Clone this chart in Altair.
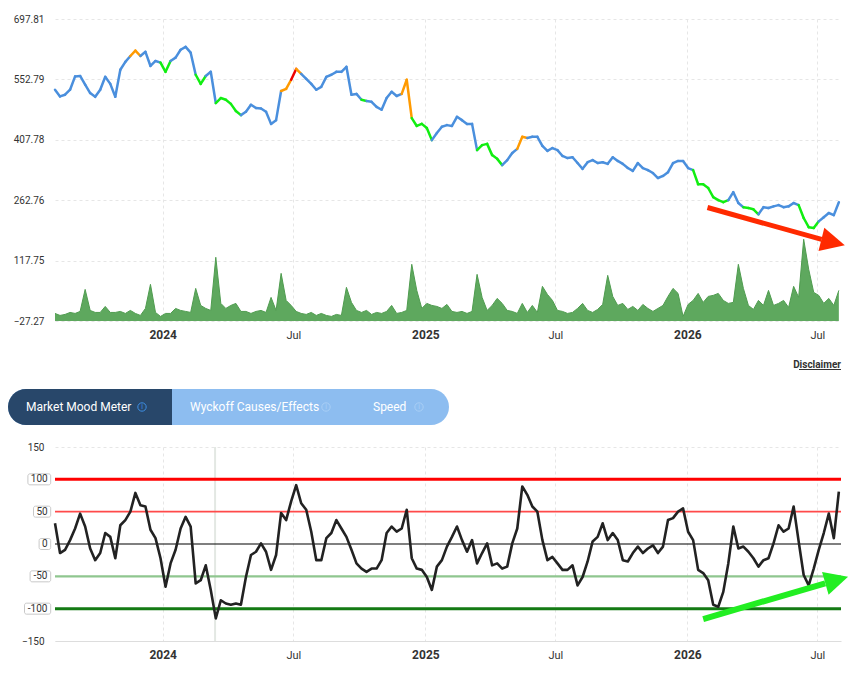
import altair as alt
import pandas as pd

# ---------------- data (weekly samples) ----------------
START = "2023-08-04"
N_WEEKS = 157

price = [528, 512, 516, 528, 560, 561, 540, 520, 511, 528,
         559, 542, 511, 576, 595, 609, 622, 609, 619, 585,
         597, 593, 571, 597, 605, 624, 631, 617, 564, 542,
         561, 571, 496, 508, 504, 494, 477, 467, 475, 492,
         484, 483, 475, 446, 455, 525, 530, 552, 578, 566,
         554, 542, 528, 535, 559, 564, 571, 571, 583, 516,
         518, 504, 501, 499, 487, 480, 508, 523, 513, 518,
         552, 460, 441, 446, 436, 407, 424, 439, 443, 441,
         463, 455, 446, 446, 383, 395, 398, 371, 362, 347,
         359, 376, 386, 415, 412, 415, 415, 393, 381, 388,
         383, 369, 364, 366, 352, 338, 354, 359, 352, 354,
         350, 366, 357, 350, 340, 333, 352, 340, 335, 328,
         316, 321, 330, 352, 357, 357, 340, 335, 301, 301,
         292, 270, 263, 258, 263, 282, 256, 246, 244, 241,
         229, 246, 244, 248, 251, 246, 248, 256, 251, 220,
         198, 196, 212, 222, 232, 227, 258]

# colour state of the segment that starts at each week: b=blue g=green o=orange r=red
state = list("bbbbbbbbbb" "bbbbboobbb" "bggbbbbbgg" "bbgggggbbb" "bbbbboorob"
             "bbbbbbbbbb" "bgbbbbbbbo" "oggggbbbbb" "bbbbgggggb" "bboobbbbbb"
             "bbbbbbbbbb" "bbbbbbbbbb" "bbbbbbbggg" "ggggbbbggg" "bbbbbbbbgg"
             "ggbbbbb")

volume = [-9.1, -13.9, -11.5, -6.7, -9.1, -4.3, 48.6, -1.9, -6.7, -6.7,
          7.7, -6.7, -6.7, -4.3, -9.1, -1.9, -9.1, -13.9, 2.9, 60.7,
          -6.7, -16.3, -9.1, -9.1, 2.9, -1.9, -4.3, -6.7, 51.0, 10.1,
          2.9, -1.9, 125.7, 15.0, 2.9, 10.1, 15.0, -4.3, -4.3, -9.1,
          -4.3, -1.9, -6.7, 29.4, -1.9, 87.1, 22.2, 10.1, -4.3, -9.1,
          -11.5, -6.7, -13.9, -9.1, -13.9, -16.3, -11.5, -13.9, 53.5, 17.4,
          -1.9, -6.7, -1.9, -11.5, -6.7, -9.1, -4.3, 10.1, -9.1, -6.7,
          -1.9, 108.8, 46.2, 2.9, 15.0, 10.1, 7.7, 2.9, 12.5, -4.3,
          -6.7, -4.3, -9.1, -4.3, 84.7, 29.4, -1.9, 10.1, 27.0, 15.0,
          -1.9, -4.3, -9.1, 15.0, -6.7, 10.1, -6.7, 55.9, 36.6, 22.2,
          -1.9, -4.3, -9.1, -6.7, 2.9, 15.0, -1.9, -6.7, 0.5, 12.5,
          82.3, 31.8, 10.1, 15.0, 0.5, 7.7, -1.9, 12.5, 2.9, -4.3,
          2.9, 10.1, 31.8, 51.0, 39.0, -16.3, 12.5, 22.2, 39.0, 17.4,
          31.8, 34.2, 39.0, 22.2, 15.0, 17.4, 108.8, 51.0, 10.1, 0.5,
          22.2, 10.1, 46.2, 10.1, 15.0, 22.2, 5.3, 55.9, 29.4, 169.0,
          96.8, 41.4, 34.2, 15.0, 27.0, 10.1, 46.2]

mood = [32, -14, -9, 6, 24, 47, 27, -7, -25, -14,
        17, 11, -22, 29, 37, 50, 79, 60, 58, 22,
        9, -22, -66, -30, -9, 24, 42, 27, -61, -56,
        -33, -71, -115, -87, -92, -94, -92, -94, -51, -17,
        -12, 1, -12, -40, -17, 48, 37, 66, 91, 63,
        53, 19, -25, -25, 9, 17, 37, 24, 11, -9,
        -30, -38, -43, -38, -38, -25, 17, 27, 19, 24,
        53, -22, -38, -40, -51, -71, -35, -25, -4, 11,
        27, 6, -12, 6, -30, -14, 1, -33, -30, -38,
        -35, 1, 24, 89, 76, 58, 50, 6, -25, -20,
        -30, -40, -40, -33, -64, -51, -27, 4, 11, 32,
        6, 17, 6, -25, -27, -14, -4, -14, -7, -2,
        -14, -4, 37, 40, 50, 55, 19, 6, -40, -45,
        -56, -94, -97, -74, -30, 27, -7, -4, -12, -22,
        -35, -25, -22, 1, 29, 19, 24, 58, 4, -48,
        -64, -38, -9, 17, 47, 9, 81]

x_tick_months = [(2024, 1), (2024, 7), (2025, 1), (2025, 7), (2026, 1), (2026, 7)]
price_ticks = [-27.27, 117.75, 262.76, 407.78, 552.79, 697.81]
mood_ticks = [-150, -100, -50, 0, 50, 100, 150]
mood_levels = [100, 50, 0, -50, -100]
crosshair_date = ["2024-03-14"]

# arrows (annotation, in data units)
red_arrow = {"date": ["2026-01-29"], "price": [245.3], "date2": ["2026-07-07"], "price2": [168.6],
             "hdate": ["2026-07-23"], "hprice": [161.6]}
green_arrow = {"date": ["2026-01-23"], "mood": [-116.0], "date2": ["2026-07-12"], "mood2": [-60.8],
               "hdate": ["2026-07-28"], "hmood": [-55.7]}

# ---------------- tables ----------------
dates = pd.date_range(START, periods=N_WEEKS, freq="7D")
df = pd.DataFrame({"date": dates, "price": price, "state": state,
                   "volume": volume, "mood": mood})
seg = df.copy()
seg["date2"] = seg["date"].shift(-1)
seg["price2"] = seg["price"].shift(-1)
seg = seg.dropna(subset=["date2"])

ra = pd.DataFrame(red_arrow)
for c in ["date", "date2", "hdate"]:
    ra[c] = pd.to_datetime(ra[c])
ga = pd.DataFrame(green_arrow)
for c in ["date", "date2", "hdate"]:
    ga[c] = pd.to_datetime(ga[c])
cross = pd.DataFrame({"date": pd.to_datetime(crosshair_date)})
one = pd.DataFrame({"k": [0]})

FONT = "Roboto"
W, H_TOP, H_BOT = 786, 302, 194

xscale = alt.Scale(domain=[alt.DateTime(year=2023, month=8, date=4),
                           alt.DateTime(year=2026, month=8, date=3)], nice=False)
is_year = "month(datum.value) == 0"


def xaxis(domain=False):
    return alt.Axis(
        values=[alt.DateTime(year=y, month=m, date=1) for y, m in x_tick_months],
        labelExpr=f"{is_year} ? timeFormat(datum.value, '%Y') : timeFormat(datum.value, '%b')",
        labelFontWeight={"condition": {"test": is_year, "value": "bold"}, "value": "normal"},
        labelFontSize={"condition": {"test": is_year, "value": 12}, "value": 11},
        ticks=False, domain=domain, domainColor="#dddddd", grid=True,
        labelPadding=8, title=None)


def X(field):
    return alt.X(field, scale=xscale, axis=xaxis(), title=None)


def Xb(field):
    return alt.X(field, scale=xscale, axis=xaxis(domain=True), title=None)


yscale_t = alt.Scale(domain=[-27.27, 697.81], nice=False, zero=False)
yaxis_t = alt.Axis(values=price_ticks, format=".2f", ticks=False, domain=False, grid=True,
                   labelPadding=11, minExtent=42, maxExtent=42, title=None)

# ---------------- top chart ----------------
vol = alt.Chart(df).mark_area(interpolate="linear", color="#5ea85e", opacity=1,
                              line={"color": "#4f9c4f", "strokeWidth": 1}).encode(
    x=X("date:T"),
    y=alt.Y("volume:Q", scale=yscale_t, axis=yaxis_t),
    y2=alt.datum(-27.27),
)

price_line = alt.Chart(seg).mark_rule(strokeWidth=2.5, strokeCap="round").encode(
    x=X("date:T"), x2="date2:T",
    y=alt.Y("price:Q", scale=yscale_t, axis=yaxis_t), y2="price2:Q",
    color=alt.Color("state:N", legend=None,
                    scale=alt.Scale(domain=["b", "g", "o", "r"],
                                    range=["#4a8fdd", "#11ee11", "#ff9a00", "#ee0000"])),
)

ARROW_HEAD = "M-1,-1L1,0L-1,1Z"
red_shaft = alt.Chart(ra).mark_rule(strokeWidth=5, color="#ff2a00").encode(
    x=X("date:T"), x2="date2:T",
    y=alt.Y("price:Q", scale=yscale_t, axis=yaxis_t), y2="price2:Q")
red_head = alt.Chart(ra).mark_point(shape=ARROW_HEAD, filled=True, size=580, angle=14,
                                    color="#ff2a00", opacity=1).encode(
    x=X("hdate:T"), y=alt.Y("hprice:Q", scale=yscale_t, axis=yaxis_t))

disc_text = alt.Chart(one).mark_text(text="Disclaimer", font=FONT, fontSize=10, fontWeight="bold",
                                     color="#333333", align="right", baseline="middle").encode(
    x=alt.value(786), y=alt.value(346))
disc_line = alt.Chart(one).mark_rule(color="#333333", strokeWidth=1).encode(
    x=alt.value(744), x2=alt.value(786), y=alt.value(350.5))

top = alt.layer(vol, price_line, red_shaft, red_head, disc_text, disc_line).properties(
    width=W, height=H_TOP)

# ---------------- bottom chart ----------------
yscale_b = alt.Scale(domain=[-150, 150], nice=False, zero=False)
yaxis_b = alt.Axis(values=mood_ticks, labelExpr="abs(datum.value) == 150 ? datum.label : ''",
                   ticks=False, domain=False, grid=True,
                   gridColor={"condition": {"test": "abs(datum.value) == 150", "value": "#e6e6e6"},
                              "value": "transparent"},
                   labelPadding=11, minExtent=42, maxExtent=42, title=None)

cross_rule = alt.Chart(cross).mark_rule(color="#e3e8e3", strokeWidth=2).encode(x=Xb("date:T"))

level_style = {100: ("#ff0000", 3), 50: ("#ff4a4a", 1.6), 0: ("#000000", 1.2),
               -50: ("#8fc68f", 2.2), -100: ("#137a13", 3)}
level_layers = []
for lv in mood_levels:
    col, sw = level_style[lv]
    level_layers.append(
        alt.Chart(one).mark_rule(color=col, strokeWidth=sw).encode(
            y=alt.YDatum(lv, scale=yscale_b)))

mood_line = alt.Chart(df).mark_line(color="#222222", strokeWidth=2.6, strokeJoin="round").encode(
    x=Xb("date:T"),
    y=alt.Y("mood:Q", scale=yscale_b, axis=yaxis_b),
)

green_shaft = alt.Chart(ga).mark_rule(strokeWidth=6, color="#22ee22").encode(
    x=Xb("date:T"), x2="date2:T",
    y=alt.Y("mood:Q", scale=yscale_b, axis=yaxis_b), y2="mood2:Q")
green_head = alt.Chart(ga).mark_point(shape=ARROW_HEAD, filled=True, size=560, angle=344,
                                      color="#22ee22", opacity=1).encode(
    x=Xb("hdate:T"), y=alt.Y("hmood:Q", scale=yscale_b, axis=yaxis_b))

# boxed level labels
box_layers = []
for lv in mood_levels:
    lab = str(lv)
    w = 6 + 5.6 * len(lab.lstrip("-")) + (3.4 if lv < 0 else 0)
    right = -4.3
    box_layers.append(
        alt.Chart(one).mark_rect(fill="white", stroke="#c8c8c8", strokeWidth=1,
                                 cornerRadius=2).encode(
            x=alt.value(right - w), x2=alt.value(right),
            y=alt.YDatum(lv + 8.5, scale=yscale_b), y2=alt.datum(lv - 8.5)))
    box_layers.append(
        alt.Chart(one).mark_text(text=lab, font=FONT, fontSize=10, color="#333333",
                                 align="center", baseline="middle").encode(
            x=alt.value(right - w / 2), y=alt.YDatum(lv, scale=yscale_b)))

# tab bar
tab_layers = [
    alt.Chart(one).mark_rect(color="#8dbdf0", cornerRadius=18).encode(
        x=alt.value(-47), x2=alt.value(394), y=alt.value(-58), y2=alt.value(-22)),
    alt.Chart(one).mark_rect(color="#28476a", cornerRadiusTopLeft=18,
                             cornerRadiusBottomLeft=18).encode(
        x=alt.value(-47), x2=alt.value(117), y=alt.value(-58), y2=alt.value(-22)),
]
tabs = [("Market Mood Meter", -29, 87, "#3d8fe5"),
        ("Wyckoff Causes/Effects", 135, 271, "#a9cff6"),
        ("Speed", 318, 364, "#a9cff6")]
for label, tx, ix, icol in tabs:
    tab_layers.append(
        alt.Chart(one).mark_text(text=label, font=FONT, fontSize=12, color="white",
                                 align="left", baseline="middle").encode(
            x=alt.value(tx), y=alt.value(-40)))
    tab_layers.append(
        alt.Chart(one).mark_point(shape="circle", size=70, filled=False, strokeWidth=1,
                                  color=icol, opacity=1).encode(
            x=alt.value(ix), y=alt.value(-40)))
    tab_layers.append(
        alt.Chart(one).mark_text(text="i", font=FONT, fontSize=7, color=icol,
                                 align="center", baseline="middle").encode(
            x=alt.value(ix), y=alt.value(-40)))

bottom = alt.layer(cross_rule, *level_layers, mood_line, green_shaft, green_head,
                   *box_layers, *tab_layers).properties(width=W, height=H_BOT)

chart = alt.vconcat(top, bottom, spacing=126, bounds="flush").properties(
    padding={"left": 0, "top": 6, "right": 5, "bottom": 5},
    background="white",
).configure_view(stroke=None).configure_axis(
    labelFont=FONT, labelColor="#333333", labelFontSize=10,
    gridColor="#e6e6e6", gridDash=[3, 3], gridWidth=1,
)

chart.save("out.html", embed_options={"renderer": "svg", "actions": False})
